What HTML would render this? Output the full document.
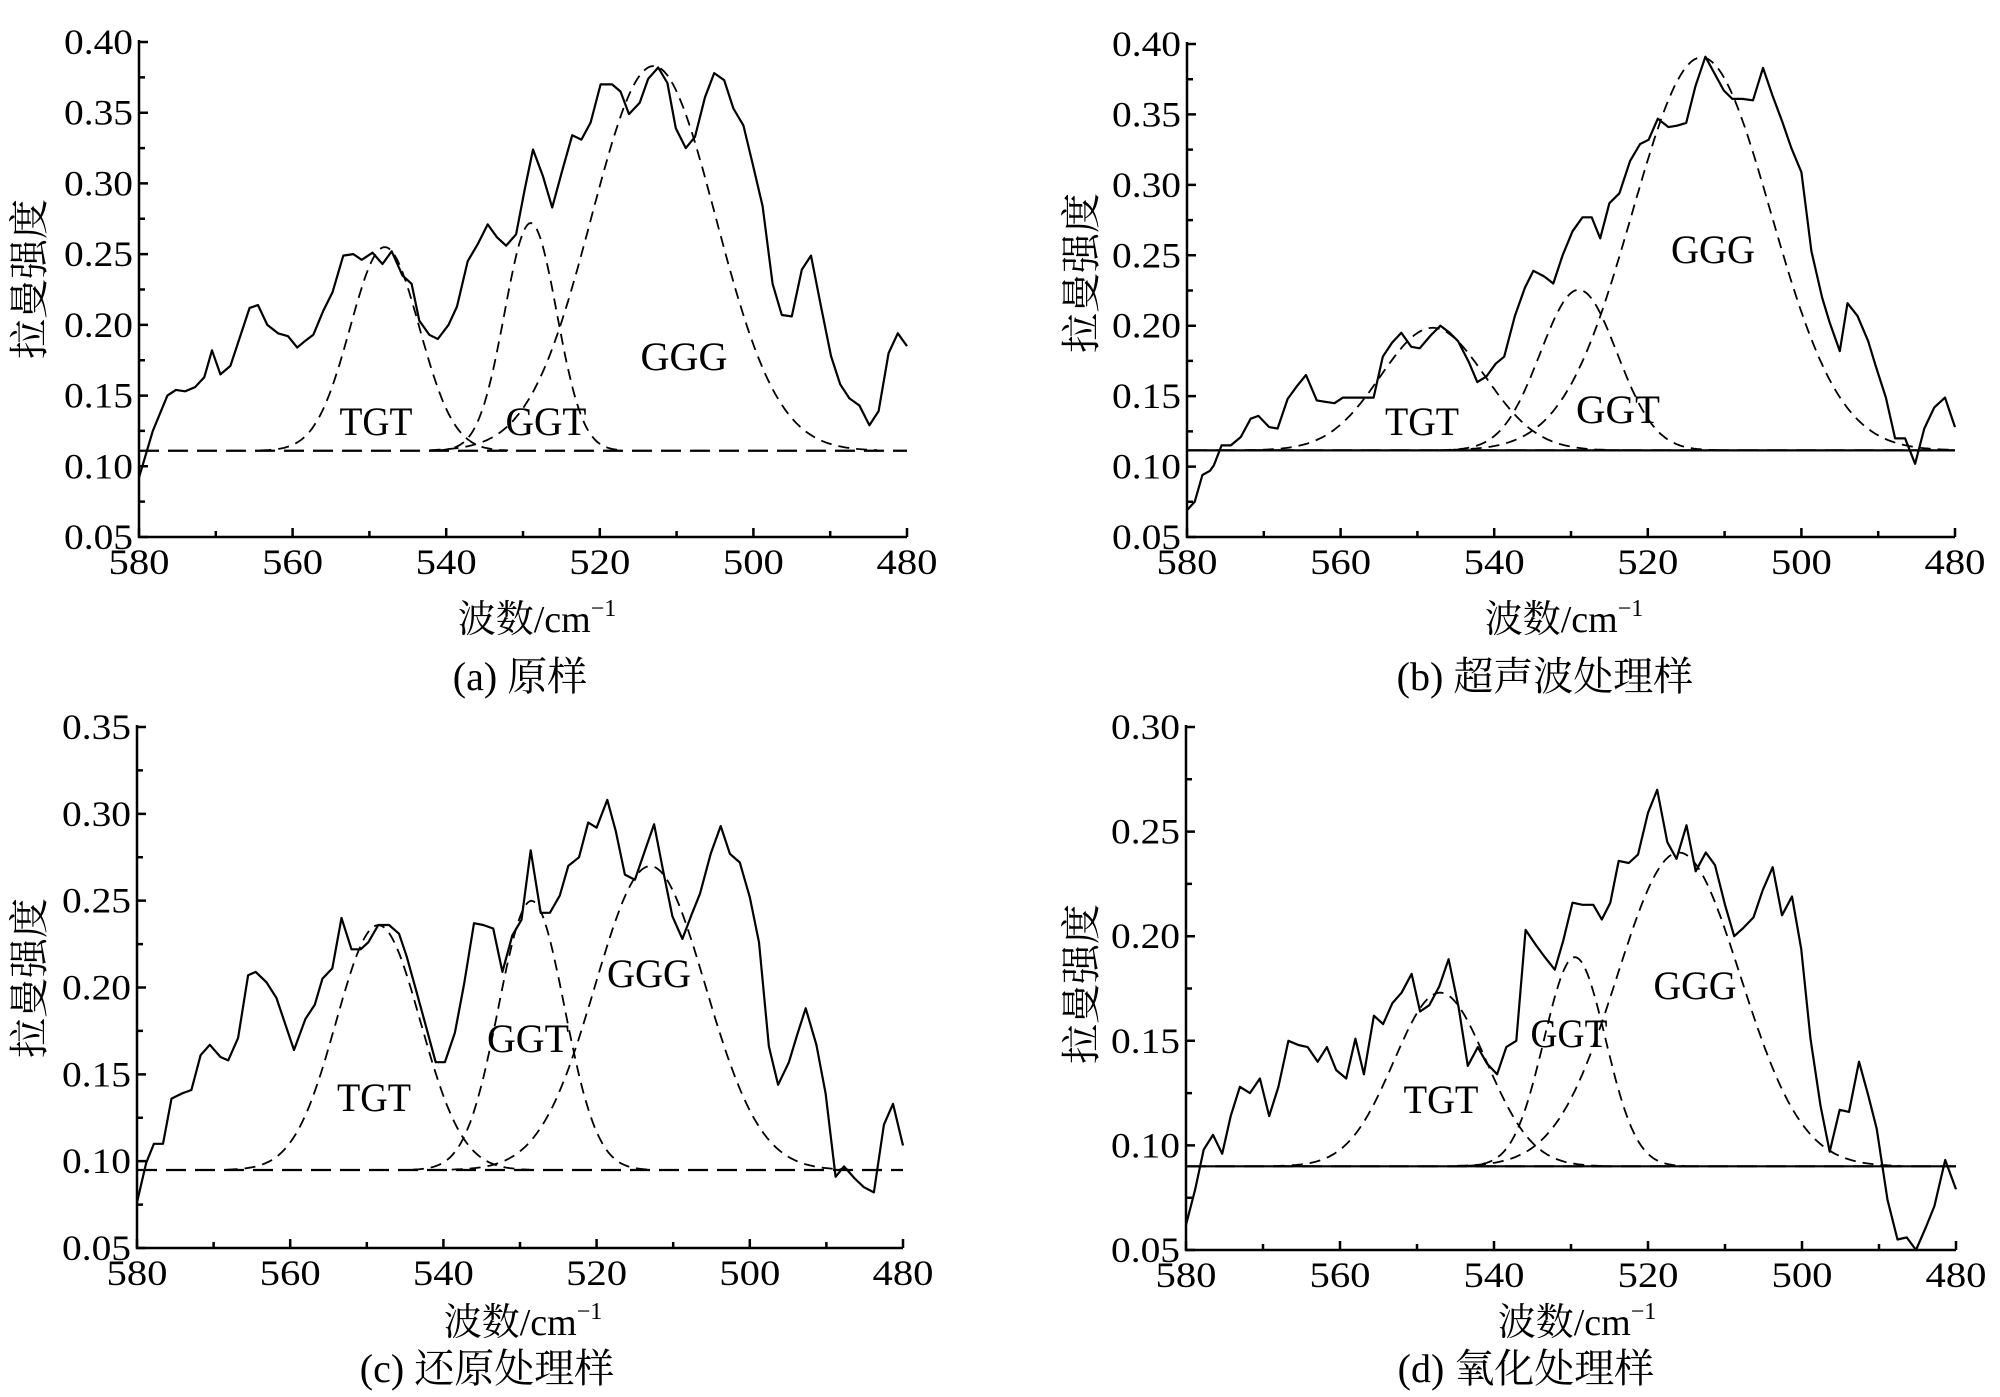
<!DOCTYPE html>
<html><head><meta charset="utf-8"><style>
html,body{margin:0;padding:0;background:#fff;}
svg{display:block;}
text{font-family:"Liberation Serif","Noto Serif CJK SC","Noto Sans CJK SC",serif;fill:#000;}
</style></head><body>
<svg id="s" width="2000" height="1397" viewBox="0 0 2000 1397" xmlns="http://www.w3.org/2000/svg">
<g id="plots" fill="none" stroke="#000"></g>
<text x="29" y="279" font-size="40" text-anchor="middle" transform="rotate(-90 29 279)" dy="14">拉曼强度</text>
<text x="537" y="632" font-size="38" text-anchor="middle">波数/cm<tspan font-size="24" dy="-16">−1</tspan></text>
<text x="520" y="690" font-size="40" text-anchor="middle">(a) 原样</text>
<text x="376" y="435" font-size="40" text-anchor="middle" textLength="73" lengthAdjust="spacingAndGlyphs">TGT</text>
<text x="546" y="435" font-size="40" text-anchor="middle" textLength="81" lengthAdjust="spacingAndGlyphs">GGT</text>
<text x="684" y="370" font-size="40" text-anchor="middle" textLength="87" lengthAdjust="spacingAndGlyphs">GGG</text>
<text x="1081" y="273" font-size="40" text-anchor="middle" transform="rotate(-90 1081 273)" dy="14">拉曼强度</text>
<text x="1564" y="632" font-size="38" text-anchor="middle">波数/cm<tspan font-size="24" dy="-16">−1</tspan></text>
<text x="1545" y="690" font-size="40" text-anchor="middle">(b) 超声波处理样</text>
<text x="1422" y="435" font-size="40" text-anchor="middle" textLength="74" lengthAdjust="spacingAndGlyphs">TGT</text>
<text x="1618" y="423" font-size="40" text-anchor="middle" textLength="84" lengthAdjust="spacingAndGlyphs">GGT</text>
<text x="1713" y="263" font-size="40" text-anchor="middle" textLength="84" lengthAdjust="spacingAndGlyphs">GGG</text>
<text x="29" y="978" font-size="40" text-anchor="middle" transform="rotate(-90 29 978)" dy="14">拉曼强度</text>
<text x="523" y="1335" font-size="38" text-anchor="middle">波数/cm<tspan font-size="24" dy="-16">−1</tspan></text>
<text x="487" y="1382" font-size="40" text-anchor="middle">(c) 还原处理样</text>
<text x="374" y="1111" font-size="40" text-anchor="middle" textLength="74" lengthAdjust="spacingAndGlyphs">TGT</text>
<text x="528" y="1052" font-size="40" text-anchor="middle" textLength="82" lengthAdjust="spacingAndGlyphs">GGT</text>
<text x="649" y="987" font-size="40" text-anchor="middle" textLength="84" lengthAdjust="spacingAndGlyphs">GGG</text>
<text x="1081" y="984" font-size="40" text-anchor="middle" transform="rotate(-90 1081 984)" dy="14">拉曼强度</text>
<text x="1577" y="1335" font-size="38" text-anchor="middle">波数/cm<tspan font-size="24" dy="-16">−1</tspan></text>
<text x="1526" y="1382" font-size="40" text-anchor="middle">(d) 氧化处理样</text>
<text x="1441" y="1113" font-size="40" text-anchor="middle" textLength="75" lengthAdjust="spacingAndGlyphs">TGT</text>
<text x="1569" y="1047" font-size="40" text-anchor="middle" textLength="77" lengthAdjust="spacingAndGlyphs">GGT</text>
<text x="1695" y="999" font-size="40" text-anchor="middle" textLength="83" lengthAdjust="spacingAndGlyphs">GGG</text>
<g id="ticklabels"></g>
</svg>
<script>
const NS="http://www.w3.org/2000/svg";
const P=document.getElementById('plots'), TL=document.getElementById('ticklabels');
function el(tag,attrs,parent,txt){const e=document.createElementNS(NS,tag);for(const k in attrs)e.setAttribute(k,attrs[k]);if(txt!==undefined)e.textContent=txt;parent.appendChild(e);return e;}
const panels=[
{x0:139,x1:907,yT:42,yB:537,vT:0.40,base:0.111,solidBase:false,
 g:[[548,0.144,4.5],[529,0.161,3.4],[513,0.272,8.1]],
 d:[[580,0.092],[578.2,0.125],[576.3,0.150],[575.2,0.154],[574,0.153],[572.7,0.156],[571.5,0.163],[570.5,0.182],[569.4,0.165],[568.1,0.171],[565.6,0.212],[564.5,0.214],[563.3,0.200],[561.9,0.194],[560.6,0.192],[559.4,0.184],[558.5,0.188],[557.3,0.193],[556,0.210],[554.8,0.223],[553.4,0.249],[552.1,0.250],[551,0.246],[549.6,0.251],[548.3,0.243],[547.1,0.252],[545.7,0.235],[544.5,0.229],[543.5,0.203],[542.2,0.193],[541.1,0.190],[539.7,0.200],[538.6,0.213],[537.2,0.245],[535.9,0.257],[534.6,0.271],[533.4,0.262],[532.2,0.256],[530.9,0.264],[529.8,0.295],[528.7,0.324],[527.4,0.305],[526.2,0.283],[524.9,0.309],[523.6,0.334],[522.4,0.331],[521.2,0.343],[519.9,0.370],[518.4,0.370],[517.3,0.365],[516.2,0.349],[514.8,0.357],[513.7,0.374],[512.4,0.382],[511.2,0.371],[510.1,0.339],[508.8,0.325],[507.6,0.333],[506.3,0.361],[505.1,0.378],[503.8,0.373],[502.6,0.353],[501.3,0.341],[500.1,0.314],[498.8,0.284],[497.5,0.229],[496.3,0.207],[495,0.206],[493.7,0.239],[492.5,0.249],[491.2,0.213],[489.9,0.178],[488.7,0.158],[487.5,0.148],[486.2,0.143],[484.9,0.129],[483.7,0.139],[482.4,0.180],[481.2,0.194],[480,0.185]]},
{x0:1187,x1:1955,yT:44,yB:537,vT:0.40,base:0.1115,solidBase:true,
 g:[[548,0.087,6.8],[529,0.114,5],[513,0.279,9]],
 d:[[580,0.069],[579,0.075],[578,0.094],[577,0.097],[576.5,0.101],[575.5,0.115],[574.3,0.115],[573,0.121],[571.7,0.134],[570.7,0.136],[569.3,0.128],[568.2,0.127],[566.9,0.148],[565.7,0.157],[564.5,0.165],[563.1,0.147],[562,0.146],[560.8,0.145],[559.7,0.149],[558.3,0.149],[555.7,0.149],[554.5,0.178],[553.3,0.188],[552.1,0.195],[550.8,0.185],[549.7,0.184],[548.3,0.193],[547,0.200],[545.8,0.195],[544.7,0.189],[543.3,0.174],[542.2,0.160],[541,0.164],[539.8,0.173],[538.7,0.178],[537.3,0.207],[536,0.227],[534.9,0.239],[533.5,0.235],[532.3,0.230],[531.1,0.250],[529.8,0.267],[528.5,0.277],[527.3,0.277],[526.2,0.262],[525,0.287],[523.7,0.294],[522.3,0.317],[521,0.329],[519.9,0.332],[518.7,0.347],[517.3,0.341],[516.2,0.342],[515,0.344],[513.8,0.370],[512.5,0.391],[511.3,0.379],[510.1,0.367],[509,0.361],[507.7,0.361],[506.3,0.360],[505,0.383],[503.8,0.364],[502.5,0.345],[501.3,0.326],[500,0.309],[498.7,0.253],[497.3,0.220],[496.3,0.202],[495,0.182],[494,0.216],[492.7,0.207],[491.3,0.189],[490.3,0.171],[489,0.149],[487.8,0.120],[486.5,0.120],[485.2,0.102],[484,0.127],[482.7,0.142],[481.3,0.149],[480,0.128]]},
{x0:137,x1:903,yT:727,yB:1248,vT:0.35,base:0.0949,solidBase:false,
 g:[[548.5,0.141,5.5],[528.5,0.155,4.3],[513,0.175,7.2]],
 d:[[580,0.076],[579.8,0.080],[578.8,0.099],[577.8,0.110],[576.6,0.110],[575.5,0.136],[574.1,0.139],[572.9,0.141],[571.7,0.161],[570.5,0.167],[569.1,0.160],[568.1,0.158],[566.8,0.171],[565.5,0.207],[564.5,0.209],[563.1,0.203],[561.8,0.194],[559.5,0.164],[558,0.182],[556.8,0.190],[555.8,0.205],[554.5,0.211],[553.3,0.240],[552,0.222],[550.8,0.222],[549.8,0.226],[548.5,0.236],[547.1,0.236],[545.8,0.231],[544.8,0.218],[543.6,0.199],[542.3,0.178],[541,0.157],[539.8,0.157],[538.5,0.174],[537.3,0.202],[536,0.237],[534.8,0.236],[533.5,0.234],[532.3,0.209],[531,0.230],[529.8,0.239],[528.6,0.279],[527.3,0.243],[526.1,0.243],[524.8,0.253],[523.7,0.270],[522.3,0.275],[521.1,0.295],[520,0.292],[518.6,0.308],[517.5,0.290],[516.3,0.265],[515,0.262],[513.6,0.280],[512.5,0.294],[511.3,0.267],[510.1,0.241],[508.8,0.228],[507.6,0.242],[506.5,0.254],[505.1,0.277],[503.8,0.293],[502.6,0.277],[501.3,0.272],[500,0.252],[498.8,0.226],[497.5,0.166],[496.3,0.144],[494.9,0.157],[493.8,0.173],[492.7,0.188],[491.3,0.167],[490.1,0.139],[488.8,0.091],[487.7,0.097],[486.3,0.090],[485.1,0.085],[483.8,0.082],[482.5,0.121],[481.3,0.133],[480,0.109]]},
{x0:1186,x1:1956,yT:727,yB:1250,vT:0.30,base:0.090,solidBase:true,
 g:[[547,0.083,6],[529.5,0.100,4],[516,0.150,8]],
 d:[[580,0.062],[578.8,0.079],[577.7,0.098],[576.5,0.105],[575.3,0.096],[574.2,0.114],[573,0.128],[571.7,0.125],[570.4,0.132],[569.2,0.114],[568,0.128],[566.7,0.150],[565.4,0.148],[564.2,0.147],[562.9,0.140],[561.7,0.147],[560.5,0.136],[559.2,0.132],[558,0.151],[556.9,0.134],[555.6,0.162],[554.4,0.158],[553.2,0.168],[552,0.173],[550.7,0.182],[549.6,0.164],[548.4,0.167],[547.1,0.176],[545.9,0.189],[544.6,0.166],[543.4,0.138],[542.1,0.147],[540.9,0.139],[539.6,0.134],[538.4,0.147],[537.1,0.150],[535.9,0.203],[534.6,0.196],[533.4,0.190],[532.1,0.184],[531,0.198],[529.8,0.216],[528.5,0.215],[527.1,0.215],[526,0.208],[524.9,0.216],[523.8,0.236],[522.5,0.235],[521.3,0.239],[520,0.259],[518.8,0.270],[517.5,0.245],[516.3,0.237],[515,0.253],[513.8,0.231],[512.5,0.240],[511.3,0.234],[510,0.215],[508.8,0.200],[507.6,0.204],[506.3,0.209],[505.1,0.222],[503.8,0.233],[502.6,0.210],[501.3,0.219],[500.1,0.194],[498.9,0.151],[497.6,0.119],[496.4,0.097],[495.1,0.117],[493.9,0.116],[492.6,0.140],[491.4,0.124],[490.3,0.108],[488.9,0.074],[487.6,0.055],[486.4,0.056],[485.2,0.050],[483.9,0.061],[482.8,0.071],[481.4,0.093],[480,0.079]]}
];
panels.forEach(p=>{
  const X=w=>p.x0+(580-w)/100*(p.x1-p.x0);
  const Y=v=>p.yB-(v-0.05)/(p.vT-0.05)*(p.yB-p.yT);
  el('path',{d:`M${p.x0},${p.yT-2}V${p.yB}H${p.x1}`,'stroke-width':2.5},P);
  let t='';
  const n=Math.round((p.vT-0.05)/0.025);
  for(let i=0;i<=n;i++){const y=Y(0.05+i*0.025);t+=`M${p.x0},${y}h${i%2==0?9:6}`;
    if(i%2==0){el('text',{x:p.x0-6,y:y+12,'font-size':36,'text-anchor':'end',textLength:69,lengthAdjust:'spacingAndGlyphs'},TL,(0.05+i*0.025).toFixed(2));}}
  for(let w=580;w>=480;w-=10){const x=X(w);t+=`M${x},${p.yB}v${(w%20==0)?-9:-6}`;
    if(w%20==0)el('text',{x:x,y:p.yB+37,'font-size':36,'text-anchor':'middle',textLength:61,lengthAdjust:'spacingAndGlyphs'},TL,String(w));}
  el('path',{d:t,'stroke-width':2.5},P);
  if(p.solidBase) el('path',{d:`M${p.x0},${Y(p.base)}H${p.x1}`,'stroke-width':2.2},P);
  el('path',{d:`M${p.x0},${Y(p.base)}H${p.x1}`,'stroke-width':2.2,'stroke-dasharray':'20 9'},P);
  p.g.forEach(([c,a,s])=>{
    let d='';let lo=c-3.6*s,hi=c+3.6*s;lo=Math.max(lo,480);hi=Math.min(hi,580);
    for(let w=hi,first=true;w>=lo-0.001;w-=0.25,first=false){
      const v=p.base+a*Math.exp(-((w-c)**2)/(2*s*s));d+=(first?'M':'L')+X(w).toFixed(1)+','+Y(v).toFixed(1);}
    el('path',{d:d,'stroke-width':1.8,'stroke-dasharray':'11 7'},P);
  });
  el('path',{d:'M'+p.d.map(q=>X(q[0]).toFixed(1)+','+Y(q[1]).toFixed(1)).join('L'),'stroke-width':2.2,'stroke-linejoin':'round'},P);
});
</script>
</body></html>
